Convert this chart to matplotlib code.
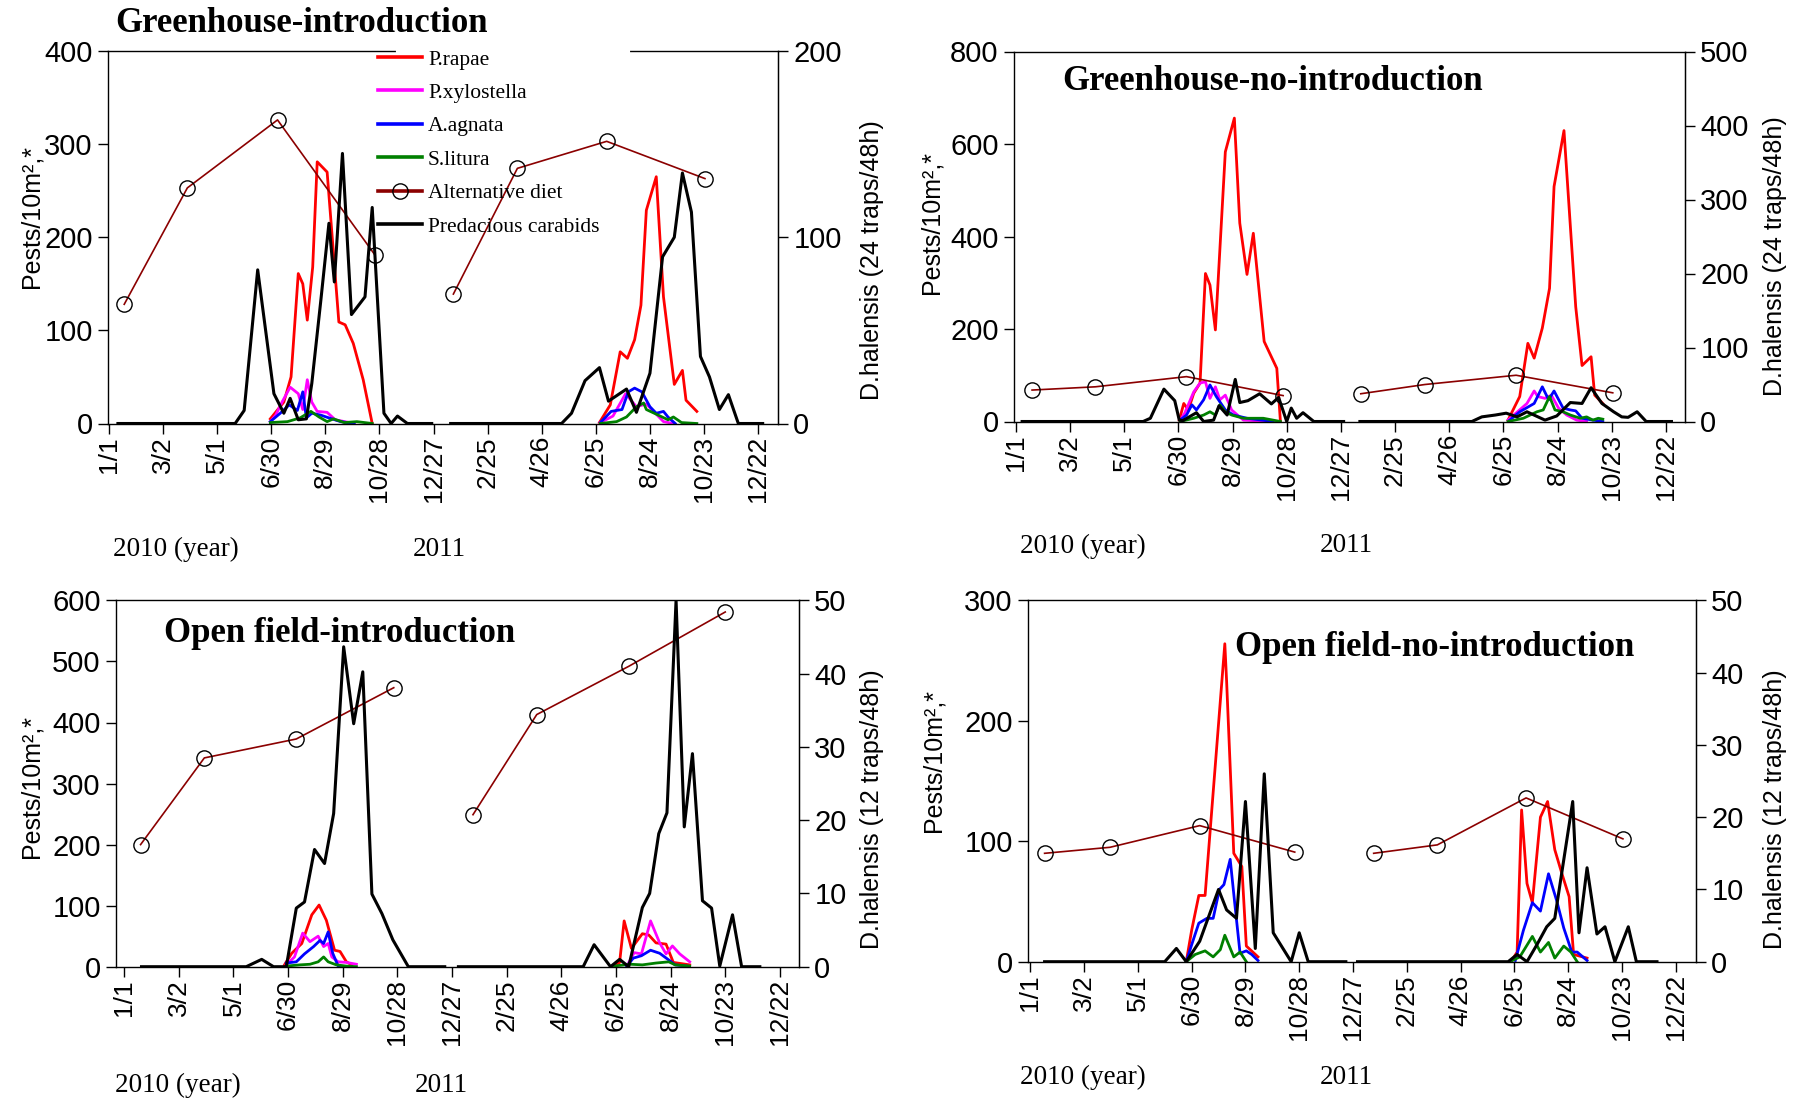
import numpy as np
import matplotlib
matplotlib.use("Agg")
import matplotlib.pyplot as plt

nan = np.nan

# days counted from 1/1/2010, nan splits 2010 and 2011
# ---- Greenhouse-introduction
tl_rapae_day = [179, 194, 202, 210, 215, 220, 226, 231, 242, 255, 262, 271, 282, 292, nan,
                544, 556, 567, 575, 583, 590, 596, 607, 615, 627, 636, 640, 652]
tl_rapae = [5, 23, 50, 161, 150, 111, 168, 281, 270, 109, 106, 86, 47, 0, nan,
            1, 20, 77, 70, 90, 127, 229, 265, 136, 42, 57, 25, 13]
tl_xylo_day = [179, 185, 192, 201, 210, 215, 220, 225, 231, 242, 251, 272, nan,
               545, 559, 573, 585, 596, 606, 615, 626]
tl_xylo = [2, 9, 23, 39, 32, 15, 47, 23, 13, 12, 4, 0, nan, 1, 8, 32, 18, 21, 11, 2, 0]
tl_agnata_day = [179, 190, 200, 209, 215, 219, 225, 235, 244, 257, 272, nan,
                 545, 557, 569, 576, 583, 591, 600, 607, 615, 620, 628]
tl_agnata = [2, 11, 20, 14, 34, 6, 11, 9, 6, 2, 0, nan, 1, 13, 15, 34, 38, 34, 18, 11, 13, 7, 0]
tl_litura_day = [179, 198, 212, 224, 233, 242, 249, 261, 275, 292, nan,
                 545, 563, 574, 585, 593, 596, 607, 620, 626, 635, 652]
tl_litura = [1, 2, 6, 13, 7, 2, 5, 1, 2, 0, nan, 0, 2, 7, 18, 22, 15, 10, 4, 7, 1, 0]
tl_diet_day = [17, 87, 187, 295, nan, 382, 453, 552, 661]
tl_diet = [128, 253, 326, 181, nan, 139, 274, 303, 263]
tl_carab_day = [10, 140, 150, 165, 183, 194, 201, 210, 219, 225, 235, 244, 250, 259, 269, 284, 292,
                305, 313, 320, 331, 358, nan,
                379, 502, 513, 528, 544, 554, 574, 585, 600, 614, 627, 636, 646, 656, 666, 677,
                687, 698, 725]
tl_carab = [0, 0, 14, 165, 32, 11, 27, 4, 5, 43, 132, 215, 152, 290, 117, 136, 232, 11, 0, 8, 0, 0, nan,
            0, 0, 11, 46, 60, 24, 37, 12, 54, 179, 200, 269, 227, 72, 50, 15, 31, 0, 0]

# ---- Greenhouse-no-introduction
tr_rapae_day = [181, 186, 191, 197, 204, 210, 215, 221, 232, 242, 248, 256, 263, 275, 282, 289, 293, nan,
                545, 558, 567, 574, 583, 591, 596, 607, 620, 627, 637, 641, 650]
tr_rapae = [3, 39, 25, 61, 83, 320, 295, 198, 583, 656, 429, 318, 407, 173, 144, 115, 0, nan,
            3, 54, 169, 137, 202, 288, 508, 629, 248, 121, 140, 57, 39]
tr_xylo_day = [182, 187, 197, 204, 210, 215, 221, 226, 232, 239, 252, 285, nan,
               545, 566, 574, 578, 586, 593, 601, 610, 621, 632]
tr_xylo = [3, 18, 64, 83, 86, 50, 75, 47, 57, 25, 3, 0, nan, 3, 39, 66, 54, 50, 57, 29, 14, 3, 0]
tr_agnata_day = [182, 189, 195, 200, 208, 215, 222, 232, 241, 256, 285, nan,
                 547, 558, 574, 583, 590, 596, 606, 614, 620, 627, 639, 650]
tr_agnata = [3, 14, 36, 25, 47, 79, 54, 25, 14, 7, 0, nan, 3, 21, 39, 75, 47, 66, 29, 25, 23, 7, 3, 0]
tr_litura_day = [182, 197, 208, 215, 221, 226, 232, 239, 252, 274, 293, nan,
                 545, 562, 577, 584, 591, 597, 606, 614, 625, 632, 639, 645, 650]
tr_litura = [0, 7, 14, 21, 14, 36, 21, 14, 7, 7, 0, nan, 0, 7, 21, 25, 54, 25, 21, 14, 7, 10, 3, 7, 5]
tr_diet_day = [18, 88, 189, 296, nan, 382, 453, 554, 661]
tr_diet = [68, 75, 97, 56, nan, 60, 80, 100, 62]
tr_carab_day = [7, 141, 149, 164, 176, 181, 185, 200, 208, 219, 225, 234, 243, 248, 257, 270, 283, 291,
                300, 305, 311, 318, 330, 363, nan,
                381, 505, 516, 531, 543, 555, 566, 576, 586, 599, 614, 627, 637, 649, 662, 671, 678,
                688, 698, 726]
tr_carab = [0, 0, 7, 70, 45, 3, 2, 19, 0, 3, 34, 14, 91, 41, 45, 60, 38, 52, 0, 29, 7, 19, 0, 0, nan,
            0, 0, 10, 14, 18, 10, 21, 12, 3, 12, 41, 39, 73, 39, 21, 10, 9, 21, 0, 0]

# ---- Open field-introduction
bl_rapae_day = [176, 184, 195, 206, 214, 222, 231, 237, 244, 250, nan,
                537, 544, 549, 557, 569, 576, 584, 595, 603, 621]
bl_rapae = [3, 22, 38, 85, 101, 76, 27, 25, 8, 3, nan, 1, 7, 75, 30, 54, 52, 39, 37, 7, 3]
bl_xylo_day = [178, 187, 196, 204, 213, 219, 224, 228, 235, 244, 255, nan,
               552, 560, 568, 578, 588, 595, 602, 610, 621]
bl_xylo = [3, 16, 55, 41, 50, 33, 38, 16, 8, 7, 4, nan, 1, 23, 21, 75, 39, 21, 34, 21, 8]
bl_agnata_day = [178, 189, 198, 208, 215, 219, 224, 229, 235, 241, nan,
                 552, 559, 568, 578, 588, 598, 605, 618]
bl_agnata = [6, 8, 21, 33, 43, 38, 57, 22, 1, 0, nan, 1, 14, 18, 27, 22, 11, 3, 1]
bl_litura_day = [178, 193, 204, 213, 219, 224, 233, 244, 255, nan, 537, 556, 569, 584, 598, 605, 621]
bl_litura = [1, 3, 4, 8, 16, 8, 3, 1, 0, nan, 1, 4, 3, 6, 8, 3, 1]
bl_diet_day = [18, 88, 189, 296, nan, 383, 453, 554, 660]
bl_diet = [200, 342, 373, 457, nan, 249, 413, 492, 581]
bl_carab_day = [19, 134, 151, 164, 178, 189, 198, 209, 220, 230, 241, 252, 262, 272, 283, 295, 312, 352, nan,
                367, 504, 516, 534, 544, 554, 569, 577, 587, 596, 606, 615, 624, 635, 645, 654, 668,
                678, 698]
bl_carab = [0, 0, 12, 0, 0, 96, 106, 192, 169, 251, 524, 398, 483, 119, 87, 44, 0, 0, nan,
            0, 0, 36, 0, 12, 0, 97, 120, 218, 252, 600, 229, 349, 108, 96, 1, 85, 0, 0]

# ---- Open field-no-introduction (no P.xylostella)
br_rapae_day = [174, 180, 188, 195, 217, 219, 227, 236, 241, 254, nan,
                537, 543, 548, 554, 560, 569, 577, 585, 593, 601, 606, 621]
br_rapae = [0, 26, 55, 55, 264, 233, 90, 79, 13, 4, nan, 1, 8, 126, 65, 49, 120, 133, 93, 73, 54, 6, 3]
br_agnata_day = [174, 180, 188, 197, 204, 211, 216, 223, 228, 234, 241, 247, 254, nan,
                 541, 550, 560, 569, 578, 587, 595, 604, 610, 621]
br_agnata = [0, 14, 32, 36, 36, 60, 64, 85, 49, 7, 9, 6, 1, nan, 1, 26, 49, 42, 73, 51, 28, 8, 8, 1]
br_litura_day = [174, 184, 195, 204, 212, 217, 227, 234, 241, nan,
                 535, 546, 560, 569, 578, 585, 595, 603, 610]
br_litura = [0, 6, 9, 4, 10, 22, 4, 8, 0, nan, 0, 4, 21, 8, 16, 3, 13, 8, 0]
br_diet_day = [16, 89, 189, 295, nan, 383, 454, 553, 661]
br_diet = [90, 95, 113, 91, nan, 90, 97, 136, 102]
br_carab_day = [16, 150, 163, 174, 189, 210, 219, 230, 240, 251, 261, 271, 291, 300, 310, 352, nan,
                365, 533, 543, 554, 565, 576, 585, 605, 612, 621, 632, 641, 652, 667, 676, 699]
br_carab = [0, 0, 11, 0, 17, 60, 43, 36, 133, 11, 156, 24, 0, 24, 0, 0, nan,
            0, 0, 6, 0, 14, 29, 36, 133, 24, 78, 23, 29, 0, 29, 0, 0]

tick_days = [0, 60, 120, 180, 240, 300, 360, 420, 480, 540, 600, 660, 720]
tick_labels = ["1/1", "3/2", "5/1", "6/30", "8/29", "10/28", "12/27",
               "2/25", "4/26", "6/25", "8/24", "10/23", "12/22"]

W, H = 1807, 1103
fig = plt.figure(figsize=(W / 100, H / 100), dpi=100)

SANS = ["Liberation Sans", "DejaVu Sans"]
NARROW = ["Liberation Sans Narrow", "Liberation Sans", "DejaVu Sans"]
SERIF = ["Liberation Serif", "DejaVu Serif"]


def box(l, t, r, b):
    return [l / W, 1 - b / H, (r - l) / W, (b - t) / H]


def ftext(x, y, s, **kw):
    fig.text(x / W, 1 - y / H, s, **kw)


def panel(rect, xlim, ymax, ystep, y2max, y2step, rapae, xylo, agnata, litura, diet, carab):
    ax = fig.add_axes(rect)
    ax.plot(*rapae, color="#ff0000", lw=2.0, label="P.rapae")
    if xylo is not None:
        ax.plot(*xylo, color="#ff00ff", lw=2.0, label="P.xylostella")
    else:
        ax.plot([], [], color="#ff00ff", lw=2.0, label="P.xylostella")
    ax.plot(*agnata, color="#0000ff", lw=2.0, label="A.agnata")
    ax.plot(*litura, color="#008000", lw=2.0, label="S.litura")
    ax.plot(*diet, color="#8b0000", lw=1.2, marker="o", ms=11, mfc="none", mec="black",
            mew=1.0, label="Alternative diet")
    ax.plot(*carab, color="black", lw=2.2, label="Predacious carabids")
    ax.set_xlim(*xlim)
    ax.set_ylim(0, ymax)
    ax.set_xticks(tick_days)
    ax.set_xticklabels(tick_labels, rotation=90, family=SANS, fontsize=19)
    ax.set_yticks(np.arange(0, ymax + 1, ystep))
    ax.set_yticklabels([str(int(v)) for v in np.arange(0, ymax + 1, ystep)], family=NARROW, fontsize=21)
    ax.tick_params(axis="x", direction="out", length=7, width=1, pad=2)
    ax.tick_params(axis="y", direction="out", length=7, width=1, pad=4)
    for sp in ax.spines.values():
        sp.set_linewidth(1.0)
    ax2 = ax.twinx()
    ax2.set_ylim(0, y2max)
    ax2.set_yticks(np.arange(0, y2max + 1, y2step))
    ax2.set_yticklabels([str(int(v)) for v in np.arange(0, y2max + 1, y2step)], family=NARROW, fontsize=21)
    ax2.tick_params(axis="y", direction="out", length=7, width=1, pad=4)
    for s in ["top", "left", "bottom"]:
        ax2.spines[s].set_visible(False)
    return ax


ax_tl = panel(box(108, 51, 778, 423.5), (-1, 742), 400, 100, 200, 100,
              (tl_rapae_day, tl_rapae), (tl_xylo_day, tl_xylo), (tl_agnata_day, tl_agnata),
              (tl_litura_day, tl_litura), (tl_diet_day, tl_diet), (tl_carab_day, tl_carab))
ax_tr = panel(box(1014, 51.5, 1685, 421.5), (-2, 741), 800, 200, 500, 100,
              (tr_rapae_day, tr_rapae), (tr_xylo_day, tr_xylo), (tr_agnata_day, tr_agnata),
              (tr_litura_day, tr_litura), (tr_diet_day, tr_diet), (tr_carab_day, tr_carab))
ax_bl = panel(box(116, 600.4, 799, 966.7), (-9, 741), 600, 100, 50, 10,
              (bl_rapae_day, bl_rapae), (bl_xylo_day, bl_xylo), (bl_agnata_day, bl_agnata),
              (bl_litura_day, bl_litura), (bl_diet_day, bl_diet), (bl_carab_day, bl_carab))
ax_br = panel(box(1028, 600.4, 1696, 961.7), (-2.5, 742.5), 300, 100, 50, 10,
              (br_rapae_day, br_rapae), None, (br_agnata_day, br_agnata),
              (br_litura_day, br_litura), (br_diet_day, br_diet), (br_carab_day, br_carab))

# legend sits over the top frame line, which is broken there
ax_tl.axhline(400, xmin=0.433, xmax=0.776, color="white", lw=3, zorder=3, clip_on=False)
leg = ax_tl.legend(loc="upper left", bbox_to_anchor=(372 / W, 1 - 43 / H), bbox_transform=fig.transFigure,
                   prop={"family": SERIF, "size": 15.5}, frameon=False,
                   handlelength=2.0, handletextpad=0.3, labelspacing=0.62, borderpad=0.3, borderaxespad=0)
for ln in leg.get_lines():
    ln.set_linewidth(2.6)

# titles
tfont = dict(family=SERIF, fontsize=25, fontweight="bold", va="center", ha="left")
ftext(115, 23, "Greenhouse-introduction", **tfont)
ftext(1062, 81, "Greenhouse-no-introduction", **tfont)
ftext(164, 634, "Open field-introduction", **tfont)
ftext(1235, 648, "Open field-no-introduction", **tfont)

# year notes
yfont = dict(family=SERIF, fontsize=19.5, va="center", ha="left")
for x0, y0 in [(113, 549), (1020, 546), (115, 1085), (1020, 1077)]:
    ftext(x0, y0, "2010 (year)", **yfont)
    ftext(x0 + 300, y0, "2011", **yfont)

# axis titles
lfont = dict(family=SANS, fontsize=18, rotation=90, va="center", ha="center")
ftext(31, 216, "Pests/10m²,*", **lfont)
ftext(931, 222, "Pests/10m²,*", **lfont)
ftext(31, 787, "Pests/10m²,*", **lfont)
ftext(933, 761, "Pests/10m²,*", **lfont)
ftext(872, 260, "D.halensis (24 traps/48h)", **lfont)
ftext(1775, 256, "D.halensis (24 traps/48h)", **lfont)
ftext(872, 809, "D.halensis (12 traps/48h)", **lfont)
ftext(1775, 809, "D.halensis (12 traps/48h)", **lfont)

fig.savefig("out.png", dpi=100)
